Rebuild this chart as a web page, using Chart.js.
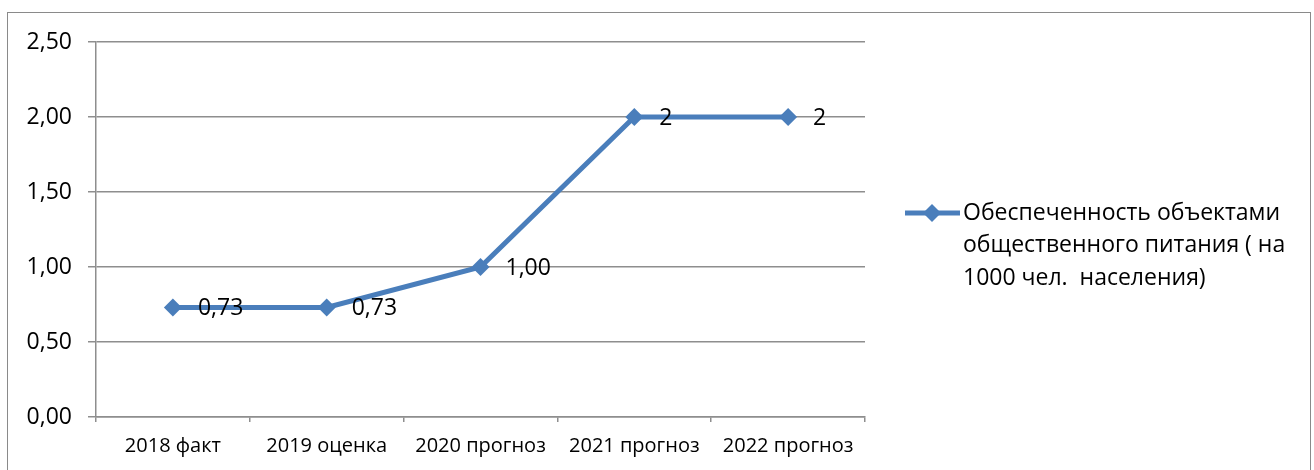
<!DOCTYPE html>
<html lang="ru">
<head>
<meta charset="utf-8">
<title>Обеспеченность объектами общественного питания</title>
<script src="https://cdn.jsdelivr.net/npm/chart.js@4/dist/chart.umd.min.js"></script>
<style>
  html, body { margin: 0; padding: 0; background: #fff; overflow: hidden; }
  #wrap { position: relative; width: 1314px; height: 470px; }
  #frame {
    position: absolute; left: 7px; top: 12px; width: 1304px; height: 470px;
    border: 1.5px solid #8a8a8a; box-sizing: border-box; pointer-events: none;
  }
  canvas { position: absolute; left: 0; top: 0; }
</style>
</head>
<body>
<div id="wrap">
  <canvas id="chart" width="1314" height="470"></canvas>
  <div id="frame"></div>
</div>
<script>
/* данные */
const categories = ['2018 факт', '2019 оценка', '2020 прогноз', '2021 прогноз', '2022 прогноз'];
const values = [0.73, 0.73, 1.00, 2, 2];
const valueLabels = ['0,73', '0,73', '1,00', '2', '2'];
const yTicks = [0, 0.5, 1, 1.5, 2, 2.5];
const seriesLines = ['Обеспеченность объектами', 'общественного питания ( на', '1000 чел.  населения)'];

const BLUE = '#4a7ebb';
const GRID = '#8e8e8e';
const FONT = '"Open Sans", "Noto Sans", sans-serif';

/* подписи значений справа от точек */
const valueLabelPlugin = {
  id: 'valueLabels',
  afterDatasetsDraw(chart) {
    const ctx = chart.ctx;
    const meta = chart.getDatasetMeta(0);
    ctx.save();
    ctx.font = '23px ' + FONT;
    ctx.fillStyle = '#000';
    ctx.textAlign = 'left';
    ctx.textBaseline = 'middle';
    meta.data.forEach((pt, i) => {
      ctx.fillText(valueLabels[i], pt.x + 25, pt.y + 1);
    });
    ctx.restore();
  }
};

/* легенда справа: линия с ромбом + текст в три строки */
const sideLegendPlugin = {
  id: 'sideLegend',
  afterDraw(chart) {
    const ctx = chart.ctx;
    const y0 = 213;
    ctx.save();
    ctx.strokeStyle = BLUE;
    ctx.lineWidth = 5;
    ctx.beginPath();
    ctx.moveTo(905, y0);
    ctx.lineTo(960, y0);
    ctx.stroke();
    ctx.fillStyle = BLUE;
    ctx.beginPath();
    ctx.moveTo(932, y0 - 9);
    ctx.lineTo(941, y0);
    ctx.lineTo(932, y0 + 9);
    ctx.lineTo(923, y0);
    ctx.closePath();
    ctx.fill();

    ctx.font = '23px ' + FONT;
    ctx.fillStyle = '#000';
    ctx.textAlign = 'left';
    ctx.textBaseline = 'middle';
    seriesLines.forEach((line, i) => ctx.fillText(line, 963, y0 + i * 32.5));
    ctx.restore();
  }
};

new Chart(document.getElementById('chart'), {
  type: 'line',
  data: {
    labels: categories,
    datasets: [{
      label: seriesLines.join(' '),
      data: values,
      borderColor: BLUE,
      backgroundColor: BLUE,
      borderWidth: 5,
      pointStyle: 'rectRot',
      pointRadius: 9,
      pointHoverRadius: 9,
      pointBorderWidth: 0,
      tension: 0,
    }]
  },
  options: {
    responsive: false,
    animation: false,
    events: [],
    layout: { padding: { left: 0, top: 42, right: 449, bottom: 0 } },
    plugins: { legend: { display: false }, tooltip: { enabled: false } },
    scales: {
      x: {
        offset: true,
        grid: { offset: true, drawOnChartArea: false, drawTicks: true, tickLength: 5, color: GRID, lineWidth: 1.5 },
        border: { color: GRID, width: 1.5 },
        ticks: { font: { family: FONT, size: 20 }, color: '#000', padding: 12, maxRotation: 0, autoSkip: false },
        afterFit(scale) { scale.height = 53; },
      },
      y: {
        min: 0,
        max: 2.5,
        afterBuildTicks(scale) { scale.ticks = yTicks.map(v => ({ value: v })); },
        ticks: {
          font: { family: FONT, size: 23 },
          color: '#000',
          padding: 16,
          callback: v => Number(v).toFixed(2).replace('.', ','),
        },
        grid: { tickLength: 8, color: GRID, lineWidth: 1.5 },
        border: { color: GRID, width: 1.5 },
        afterFit(scale) { scale.width = 96; },
      }
    }
  },
  plugins: [valueLabelPlugin, sideLegendPlugin]
});
</script>
</body>
</html>
